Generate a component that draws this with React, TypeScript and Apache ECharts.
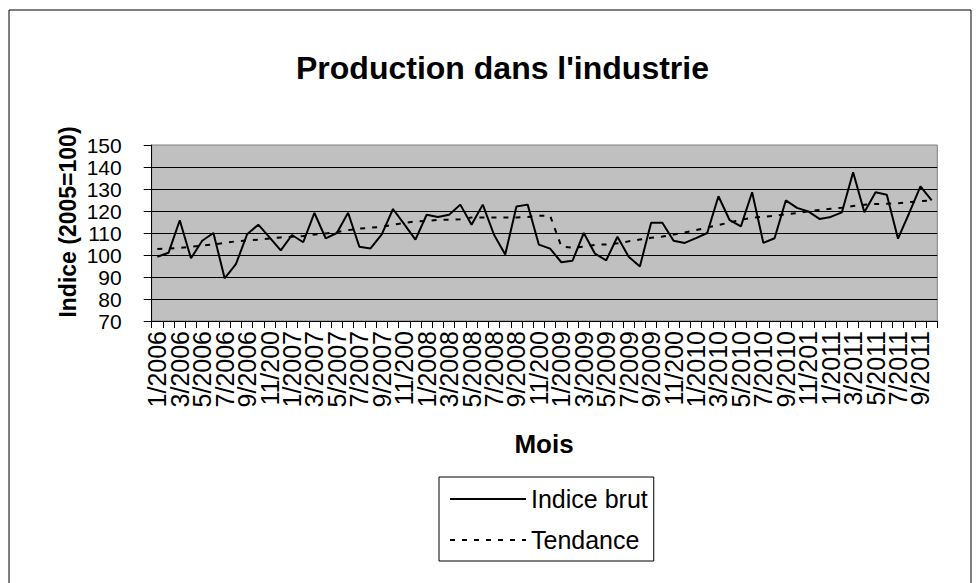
import React, { useEffect, useRef } from "react";
import * as echarts from "echarts";

const months: string[] = [
  "1/2006", "2/2006", "3/2006", "4/2006", "5/2006", "6/2006", "7/2006", "8/2006", "9/2006", "10/2006", "11/2006", "12/2006",
  "1/2007", "2/2007", "3/2007", "4/2007", "5/2007", "6/2007", "7/2007", "8/2007", "9/2007", "10/2007", "11/2007", "12/2007",
  "1/2008", "2/2008", "3/2008", "4/2008", "5/2008", "6/2008", "7/2008", "8/2008", "9/2008", "10/2008", "11/2008", "12/2008",
  "1/2009", "2/2009", "3/2009", "4/2009", "5/2009", "6/2009", "7/2009", "8/2009", "9/2009", "10/2009", "11/2009", "12/2009",
  "1/2010", "2/2010", "3/2010", "4/2010", "5/2010", "6/2010", "7/2010", "8/2010", "9/2010", "10/2010", "11/2010", "12/2010",
  "1/2011", "2/2011", "3/2011", "4/2011", "5/2011", "6/2011", "7/2011", "8/2011", "9/2011", "10/2011",
];

const indiceBrut: number[] = [
  99.2, 101, 115.8, 98.5, 106.5, 110, 89.4, 95.8, 109.4, 113.8, 108, 102.1,
  109.1, 105.8, 119.1, 107.6, 110, 119.2, 103.8, 103, 109.4, 120.9, 114, 107,
  118.3, 117.3, 118.3, 122.9, 113.8, 122.9, 109.2, 100.2, 122, 122.9, 104.7, 102.9,
  96.7, 97.4, 110, 100.6, 97.6, 108.3, 99.2, 94.8, 114.7, 114.7, 106.5, 105.5,
  107.7, 110, 126.7, 115.8, 113, 128.5, 105.5, 107.6, 124.8, 121.4, 119.8, 116.4,
  117.3, 119.4, 137.6, 119.4, 128.5, 127.4, 107.4, 119.1, 131.2, 124.8,
];

const tendance: number[] = [
  102.7, 102.9, 103.2, 103.8, 104.3, 104.8, 105.5, 106.2, 106.6, 107, 107.5, 108,
  108.3, 108.6, 109.3, 109.8, 110.4, 111.3, 112, 112.4, 112.8, 113.7, 114.6, 115.3,
  115.5, 116, 116, 116.2, 117, 117.1, 117.1, 117.1, 117.1, 117.3, 117.8, 117.9,
  103.9, 103.3, 103.8, 104.6, 104.8, 105.3, 106.2, 107, 107.8, 108.4, 109.3, 110.2,
  111.3, 112.5, 113.6, 114.8, 116, 117, 117.4, 117.8, 118.5, 119, 119.8, 120.5,
  121, 121.5, 122.3, 122.8, 123.2, 123.3, 123.5, 124, 124.5, 124.8,
];

const seriesNames: string[] = ["Indice brut", "Tendance"];
const titleText = "Production dans l'industrie";
const yTitle = "Indice (2005=100)";
const xTitle = "Mois";

const FONT = "'Liberation Sans', Arial, sans-serif";
const CLEAR = "rgba(0,0,0,0)";

export default function App() {
  const ref = useRef<HTMLDivElement>(null);
  useEffect(() => {
    if (!ref.current) return;
    const chart = echarts.init(ref.current, null, { renderer: "svg" });
    chart.setOption({
      animation: false,
      backgroundColor: "#ffffff",
      textStyle: { fontFamily: FONT },
      grid: {
        left: 143.7,
        top: 137,
        width: 785.6,
        height: 176,
        show: true,
        backgroundColor: "#c0c0c0",
        borderColor: "#808080",
        borderWidth: 1,
      },
      xAxis: {
        type: "category",
        data: months,
        boundaryGap: true,
        axisLine: { show: true, lineStyle: { color: "#000", width: 1 } },
        axisTick: { show: true, interval: 0, length: 7, inside: false, lineStyle: { color: "#000" } },
        axisLabel: {
          interval: 0,
          rotate: 90,
          margin: 10,
          color: "#000",
          fontSize: 25,
          fontFamily: FONT,
          formatter: (v: string, i: number) => (i % 2 === 0 ? v.slice(0, 6) : ""),
        },
        splitLine: { show: false },
      },
      yAxis: {
        type: "value",
        min: 70,
        max: 150,
        interval: 10,
        axisLine: { show: true, lineStyle: { color: "#000", width: 1 } },
        axisTick: { show: true, length: 8, lineStyle: { color: "#000" } },
        axisLabel: { color: "#000", fontSize: 21, margin: 30, fontFamily: FONT },
        splitLine: { show: true, showMaxLine: false, lineStyle: { color: "#000", width: 1 } },
      },
      legend: {
        orient: "vertical",
        left: 431,
        top: 469,
        data: seriesNames,
        borderColor: "#000",
        borderWidth: 1,
        padding: [7, 6, 6, 10],
        itemWidth: 76,
        itemHeight: 2,
        itemGap: 11,
        itemStyle: { color: CLEAR, borderColor: CLEAR, borderWidth: 0, opacity: 0 },
        textStyle: { color: "#000", fontSize: 25, lineHeight: 30, fontFamily: FONT },
      },
      series: [
        {
          name: seriesNames[0],
          type: "line",
          data: indiceBrut,
          symbol: "none",
          lineStyle: { color: "#000", width: 2, type: "solid" },
          itemStyle: { color: "#000" },
        },
        {
          name: seriesNames[1],
          type: "line",
          data: tendance,
          symbol: "none",
          lineStyle: { color: "#000", width: 2, type: [5, 7] },
          itemStyle: { color: "#000" },
        },
      ],
      graphic: [
        {
          type: "rect",
          shape: { x: 1, y: 2, width: 962, height: 600 },
          style: { fill: "none", stroke: "#000", lineWidth: 1 },
          silent: true,
        },
        {
          type: "text",
          x: 494.5,
          y: 60,
          style: {
            text: titleText,
            fill: "#000",
            font: `bold 32px ${FONT}`,
            align: "center",
            verticalAlign: "middle",
          },
        },
        {
          type: "text",
          x: 60,
          y: 214,
          rotation: Math.PI / 2,
          style: {
            text: yTitle,
            fill: "#000",
            font: `bold 23px ${FONT}`,
            align: "center",
            verticalAlign: "middle",
          },
        },
        {
          type: "text",
          x: 536,
          y: 436,
          style: {
            text: xTitle,
            fill: "#000",
            font: `bold 26px ${FONT}`,
            align: "center",
            verticalAlign: "middle",
          },
        },
      ],
    });
    return () => chart.dispose();
  }, []);
  return <div ref={ref} style={{ width: 964, height: 575 }} />;
}
